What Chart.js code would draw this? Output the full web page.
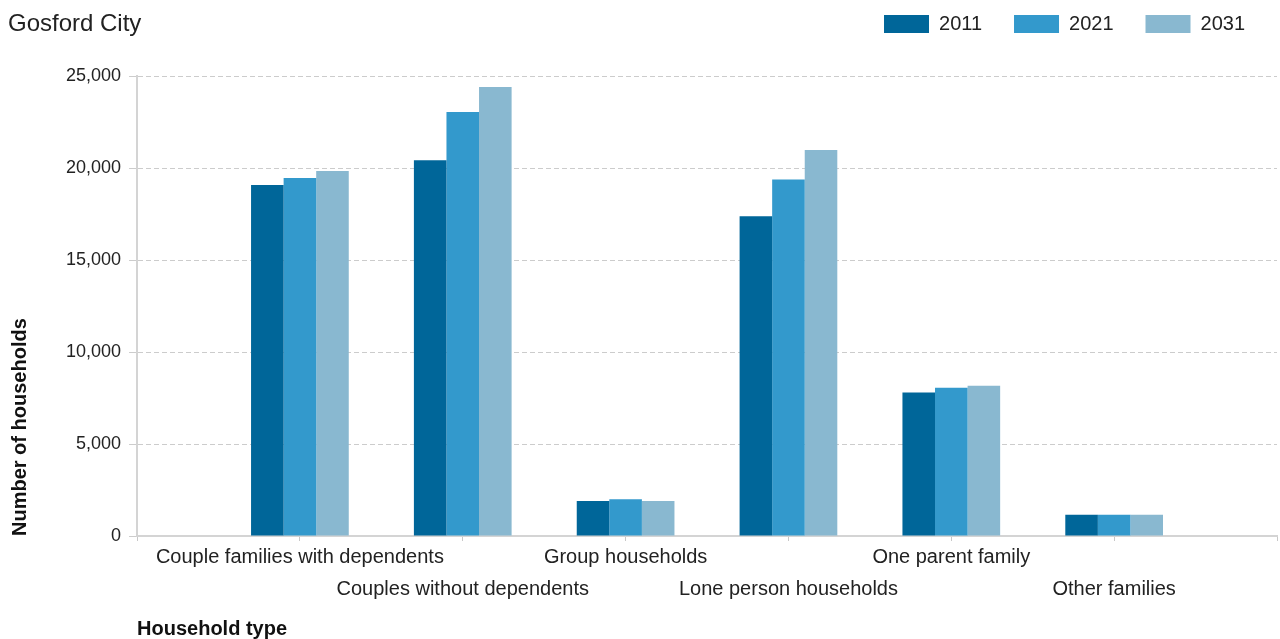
<!DOCTYPE html>
<html>
<head>
<meta charset="utf-8">
<script src="https://cdn.jsdelivr.net/npm/chart.js@4"></script>
<style>
  html, body { margin: 0; padding: 0; background: #fff; }
  #wrap { position: relative; width: 1280px; height: 639px; }
  #sub { position: absolute; left: 8px; top: 9px; font: 24px "Liberation Sans", Arial, sans-serif; color: #222; }
</style>
</head>
<body>
<div id="wrap">
  <div id="sub">Gosford City</div>
  <canvas id="hhChart" width="1280" height="639"></canvas>
</div>
<script>
// Household types (Gosford City)
const categories = [
  'Couple families with dependents',
  'Couples without dependents',
  'Group households',
  'Lone person households',
  'One parent family',
  'Other families'
];
const years = ['2011', '2021', '2031'];
const hh2011 = [19080, 20420, 1900, 17380, 7800, 1150];
const hh2021 = [19450, 23050, 2000, 19380, 8060, 1150];
const hh2031 = [19840, 24400, 1900, 20980, 8160, 1150];
const colours = ['#006699', '#3399cc', '#89b8d0'];
const yTicks = [0, 5000, 10000, 15000, 20000, 25000];

// staggered labels, with an empty slot at each end of the axis
const labels = [''].concat(categories.map((c, i) => i % 2 ? ['', c] : c), ['']);
const pad = arr => [null].concat(arr, [null]);

// extra room under the legend
const legendGap = {
  id: 'legendGap',
  beforeInit(chart) {
    const fit = chart.legend.fit;
    chart.legend.fit = function () {
      fit.call(this);
      this.height += 32;
    };
  }
};

function initChart() {
  const ctx = document.getElementById('hhChart').getContext('2d');
  const font = 'Liberation Sans';

  new Chart(ctx, {
    type: 'bar',
    data: {
      labels: labels,
      datasets: [hh2011, hh2021, hh2031].map((vals, i) => ({
        label: years[i],
        data: pad(vals),
        backgroundColor: colours[i],
        borderWidth: 0,
        categoryPercentage: 0.6,
        barPercentage: 1
      }))
    },
    plugins: [legendGap],
    options: {
      responsive: false,
      animation: false,
      layout: { padding: { left: 8, right: 3, top: -18, bottom: -2 } },
      plugins: {
        tooltip: { enabled: false },
        legend: {
          position: 'top',
          align: 'end',
          labels: {
            boxWidth: 45,
            boxHeight: 18,
            padding: 32,
            color: '#222',
            font: { family: font, size: 20 }
          }
        }
      },
      scales: {
        x: {
          offset: false,
          grid: { offset: false, drawOnChartArea: false, tickLength: 5, color: '#c8c8c8' },
          border: { color: '#d4d4d4', width: 2 },
          ticks: {
            autoSkip: false,
            maxRotation: 0,
            color: '#222',
            padding: 0,
            font: { family: font, size: 20, lineHeight: 1.6 }
          },
          title: {
            display: true,
            text: 'Household type',
            align: 'start',
            color: '#111',
            font: { family: font, size: 20, weight: 'bold' },
            padding: { top: 12, bottom: 0 }
          }
        },
        y: {
          min: 0,
          max: 25000,
          afterBuildTicks: axis => { axis.ticks = yTicks.map(v => ({ value: v })); },
          grid: { color: '#cccccc', tickLength: 8 },
          border: { display: true, color: '#d4d4d4', width: 2, dash: [5, 3] },
          ticks: {
            color: '#222',
            padding: 8,
            font: { family: font, size: 18 },
            callback: v => v.toLocaleString('en-US')
          },
          title: {
            display: true,
            text: 'Number of households',
            align: 'start',
            color: '#111',
            font: { family: font, size: 20, weight: 'bold' },
            padding: { top: 0, bottom: 26 }
          }
        }
      }
    }
  });
}

document.addEventListener('DOMContentLoaded', initChart);
</script>
</body>
</html>
